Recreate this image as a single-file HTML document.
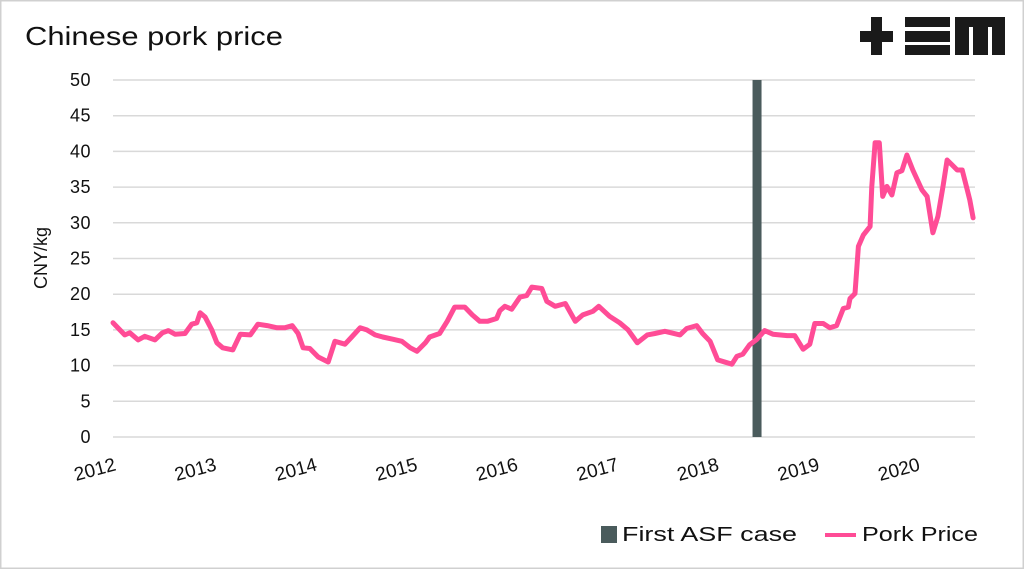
<!DOCTYPE html>
<html><head><meta charset="utf-8"><style>
html,body{margin:0;padding:0;background:#fff;}
body{width:1024px;height:569px;overflow:hidden;font-family:"Liberation Sans",sans-serif;}
</style></head><body>
<svg id="chart" width="1024" height="569" xmlns="http://www.w3.org/2000/svg" font-family="Liberation Sans, sans-serif">
<rect x="0.5" y="0.5" width="1023" height="568" fill="#fff" stroke="#d0d0d0" stroke-width="2"/>
<text x="25" y="45" font-size="26" fill="#111" textLength="258" lengthAdjust="spacingAndGlyphs">Chinese pork price</text>
<g fill="#1a1a1a">
<rect x="860" y="31" width="33" height="11"/><rect x="871" y="17" width="11" height="38"/>
<rect x="905" y="17" width="45" height="10"/><rect x="905" y="31" width="45" height="11"/><rect x="905" y="45" width="45" height="10"/>
<rect x="955" y="17" width="50" height="38"/>
<rect x="969" y="27" width="4" height="28" fill="#fff"/><rect x="988" y="27" width="4" height="28" fill="#fff"/>
</g>
<g id="grid"></g>
<g id="yticks"></g>
<g id="xticks"></g>
<text transform="translate(47,258) rotate(-90)" text-anchor="middle" font-size="18" fill="#111">CNY/kg</text>
<g id="marks"></g>
<g>
<rect x="601" y="526" width="16" height="17" fill="#4a5b5c"/>
<text x="622" y="541" font-size="20" fill="#111" textLength="175" lengthAdjust="spacingAndGlyphs">First ASF case</text>
<line x1="825" y1="535" x2="856" y2="535" stroke="#ff4c96" stroke-width="4"/>
<text x="862" y="541" font-size="20" fill="#111" textLength="116" lengthAdjust="spacingAndGlyphs">Pork Price</text>
</g>
</svg>
<script>
const yTicks=[0,5,10,15,20,25,30,35,40,45,50];
const xTickLabels=["2012","2013","2014","2015","2016","2017","2018","2019","2020"];
const asfMonth=76.9;
const months=[0,1.4,2.0,3.0,3.8,5.0,5.9,6.6,7.4,8.6,9.4,10.0,10.4,11.0,11.8,12.4,13.1,14.3,15.2,16.4,17.3,18.4,19.6,20.5,21.4,22.1,22.7,23.5,24.5,25.7,26.5,27.7,28.5,29.5,30.3,31.3,32.2,33.4,34.5,35.5,36.3,37.3,37.8,39.0,39.9,40.8,42.0,42.9,43.8,44.7,45.8,46.2,46.8,47.6,48.6,49.4,50.0,51.2,51.8,52.8,54.0,55.2,56.1,57.3,58.0,59.3,60.5,61.5,62.6,63.8,64.7,65.9,67.7,68.5,69.7,70.4,71.3,72.2,73.3,73.9,74.5,75.2,76.0,76.9,77.8,78.8,80.5,81.4,82.4,83.2,83.8,84.8,85.6,86.4,87.2,87.8,88.0,88.6,89.0,89.6,90.4,90.6,91.0,91.5,91.9,92.4,93.0,93.6,94.2,94.8,95.5,96.6,97.2,97.9,98.5,99.1,99.6,100.2,100.8,101.4,102.0,102.3,102.7];
const prices=[16.0,14.3,14.6,13.6,14.1,13.6,14.6,14.9,14.4,14.5,15.8,16.0,17.4,16.8,15.0,13.2,12.5,12.2,14.4,14.3,15.8,15.6,15.3,15.3,15.6,14.5,12.5,12.4,11.2,10.5,13.4,13.0,14.0,15.3,15.0,14.3,14.0,13.7,13.4,12.5,12.0,13.2,14.0,14.5,16.2,18.2,18.2,17.1,16.2,16.2,16.6,17.7,18.3,17.9,19.6,19.8,21.0,20.8,19.0,18.3,18.7,16.2,17.1,17.6,18.3,16.9,16.0,15.0,13.2,14.3,14.5,14.8,14.3,15.2,15.6,14.5,13.4,10.8,10.4,10.2,11.3,11.6,12.9,13.7,14.9,14.4,14.2,14.2,12.3,13.0,15.9,15.9,15.3,15.6,18.0,18.2,19.4,20.1,26.7,28.3,29.5,35.1,41.2,41.2,33.7,35.1,33.9,37.0,37.3,39.5,37.4,34.6,33.7,28.6,30.9,35.1,38.8,38.1,37.4,37.4,34.6,33.2,30.7];
const NS="http://www.w3.org/2000/svg";
const X0=113,X1=975,Y0=437,Y1=80;
function xs(m){return X0+m*(100.5/12);}
function ys(v){return Y0-(v-0)/(50-0)*(Y0-Y1);}
function mk(tag,attrs,parent){const e=document.createElementNS(NS,tag);for(const k in attrs)e.setAttribute(k,attrs[k]);parent.appendChild(e);return e;}
const grid=document.getElementById('grid'),yt=document.getElementById('yticks'),xt=document.getElementById('xticks'),marks=document.getElementById('marks');
yTicks.forEach(v=>{
 const l=mk('line',{x1:X0,x2:X1,y1:ys(v),y2:ys(v),stroke:'#d9d9d9','stroke-width':1.5},grid);
 
 
 const t=mk('text',{x:91,y:ys(v)+6,'text-anchor':'end','font-size':18,fill:'#111','letter-spacing':'0.5'},yt);
 
 
 t.textContent=v;
});
xTickLabels.forEach((s,i)=>{
 const x=xs(i*12);
 const t=mk('text',{transform:`translate(${x+4},${470}) rotate(-15)`,'text-anchor':'end','font-size':19,fill:'#111'},xt);
 
 
 t.textContent=s;
});
const bar=mk('rect',{x:xs(asfMonth)-4.5,y:Y1,width:9,height:Y0-Y1,fill:'#4a5b5c'},marks);


const d=months.map((m,i)=>(i?'L':'M')+xs(m).toFixed(1)+','+ys(prices[i]).toFixed(1)).join(' ');
const p=mk('path',{d:d,fill:'none',stroke:'#ff4c96','stroke-width':5,'stroke-linejoin':'round','stroke-linecap':'round'},marks);


</script>
</body></html>
